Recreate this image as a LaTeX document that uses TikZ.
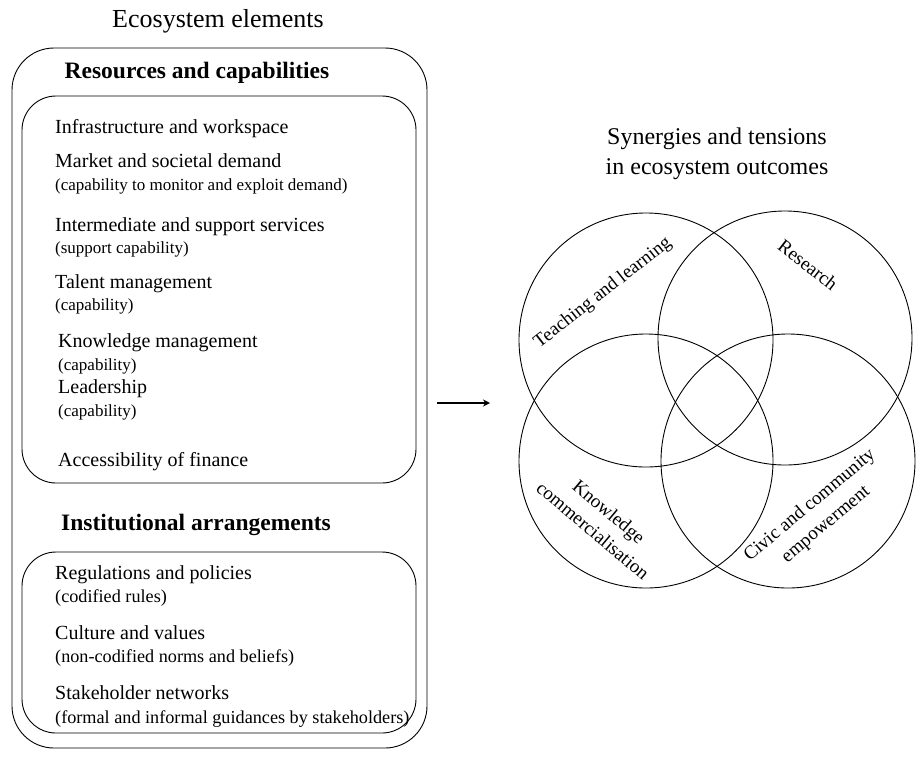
\documentclass[tikz,border=0pt]{standalone}
\usepackage{fontspec}
\setmainfont{Liberation Serif}
\usetikzlibrary{arrows.meta}
\tikzset{
  box/.style={draw, line width=0.9pt, rounded corners=34pt},
  item/.style={anchor=base west, inner sep=0pt, font=\fontsize{20}{22}\selectfont},
  sub/.style={anchor=base west, inner sep=0pt, font=\fontsize{17}{19}\selectfont},
  subb/.style={anchor=base west, inner sep=0pt, font=\fontsize{18.2}{20}\selectfont},
  head/.style={anchor=base, inner sep=0pt, font=\fontsize{23.5}{26}\selectfont\bfseries},
  ttl/.style={anchor=base, inner sep=0pt, font=\fontsize{25}{28}\selectfont},
  ring/.style={circle, draw, line width=0.9pt, minimum size=254pt, inner sep=0pt},
  vlab/.style={inner sep=0pt, align=center, font=\fontsize{19}{25}\selectfont},
}
\begin{document}
\begin{tikzpicture}[x=1pt,y=-1pt]
\useasboundingbox (0,0) rectangle (917,756);
% titles
\node[ttl, font=\fontsize{26}{28}\selectfont] (t1) at (218,27) {Ecosystem elements};
\node[ttl, font=\fontsize{24}{28}\selectfont] (t2) at (717,144) {Synergies and tensions};
\node[ttl, font=\fontsize{24}{28}\selectfont] (t3) at (717,174) {in ecosystem outcomes};
% boxes
\draw[box, rounded corners=42pt] (12,48) rectangle (427,748);
\draw[box] (22,96) rectangle (416,483);
\draw[box] (22,552) rectangle (416,733);
% headings
\node[head] (h1) at (197,78) {Resources and capabilities};
\node[head] (h2) at (196,530) {Institutional arrangements};
% resources items
\node[item] (r1) at (55,133) {Infrastructure and workspace};
\node[item] (r2) at (55,167) {Market and societal demand};
\node[sub]  (r2s) at (55,190) {(capability to monitor and exploit demand)};
\node[item] (r3) at (55,231) {Intermediate and support services};
\node[sub]  (r3s) at (55,253) {(support capability)};
\node[item] (r4) at (55,288) {Talent management};
\node[sub]  (r4s) at (55,310) {(capability)};
\node[item] (r5) at (58,347) {Knowledge management};
\node[sub]  (r5s) at (58,370) {(capability)};
\node[item] (r6) at (58,393) {Leadership};
\node[sub]  (r6s) at (58,416) {(capability)};
\node[item] (r7) at (58,466) {Accessibility of finance};
% institutional items
\node[item] (i1) at (55,579) {Regulations and policies};
\node[subb] (i1s) at (55,602) {(codified rules)};
\node[item] (i2) at (55,639) {Culture and values};
\node[subb] (i2s) at (55,662) {(non-codified norms and beliefs)};
\node[item] (i3) at (55,699) {Stakeholder networks};
\node[subb] (i3s) at (55,723) {(formal and informal guidances by stakeholders)};
% arrow
\coordinate (aS) at (437,403);
\coordinate (aE) at (490,403);
\draw[line width=1.8pt, -{Stealth[length=7pt,width=7pt]}] (aS) -- (aE);
% venn
\node[ring] (ctl) at (646,340) {};
\node[ring] (ctr) at (785,338) {};
\node[ring] (cbl) at (646,461) {};
\node[ring] (cbr) at (788,461) {};
\node[vlab, rotate=38] (l1) at (603,293) {Teaching and learning};
\node[vlab, rotate=-38] (l2) at (808,265) {Research};
\node[vlab, rotate=-40] (l3) at (601,521) {Knowledge\\commercialisation};
\node[vlab, rotate=40] (l4) at (818,515) {Civic and community\\empowerment};
\end{tikzpicture}
\end{document}
